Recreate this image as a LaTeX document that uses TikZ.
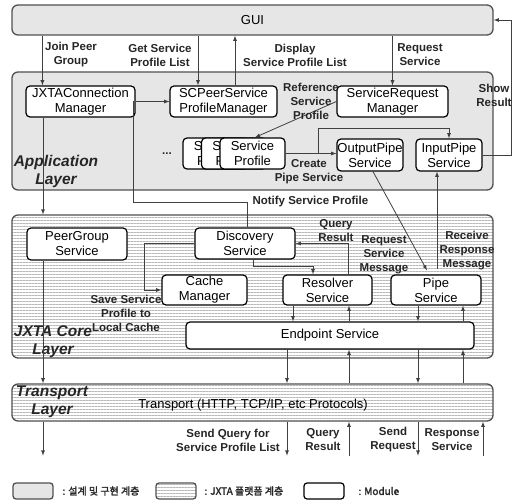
\documentclass[tikz,border=0pt]{standalone}
\usepackage{fontspec}
\setmainfont{Liberation Sans}
\newfontfamily\krfont{Noto Sans CJK KR}[AutoFakeBold=2]
\usetikzlibrary{patterns.meta}
\definecolor{layergray}{RGB}{230,230,230}
\definecolor{edgegray}{RGB}{80,80,80}
\tikzset{
  layer/.style={draw=edgegray, line width=1.3pt, rounded corners=6pt, fill=layergray, inner sep=0pt},
  striped/.style={draw=edgegray, line width=1.3pt, rounded corners=6pt, inner sep=0pt,
    preaction={fill=white}, pattern={Lines[angle=0,distance=3pt,line width=1pt]}, pattern color=black!28},
  module/.style={draw=black, line width=1.2pt, rounded corners=4pt, fill=white, inner sep=0pt,
    align=center, font=\fontsize{13}{15}\selectfont},
  lbl/.style={align=center, font=\fontsize{11.5}{14}\selectfont\bfseries, text=black!85},
  layername/.style={align=center, font=\fontsize{15.5}{18}\selectfont\bfseries\itshape, text=black!85},
  keytext/.style={anchor=west, font=\krfont\fontsize{10}{11}\selectfont\bfseries, text=black!85},
  link/.style={->, >=latex, draw=black!75, line width=0.8pt}
}
\begin{document}
\begin{tikzpicture}[x=1pt, y=-1pt]
\useasboundingbox (0,0) rectangle (515,500);
% layers
\node[layer, minimum width=481pt, minimum height=30pt, font=\fontsize{13}{15}\selectfont] (gui) at (252.5,20) {GUI};
\node[layer, minimum width=481pt, minimum height=118pt] (app) at (252.5,131) {};
\node[striped, minimum width=481pt, minimum height=143pt] (core) at (252.5,286.5) {};
\node[striped, minimum width=481pt, minimum height=37pt, font=\fontsize{13}{15}\selectfont] (transport) at (252.5,402.5) {};
\node[font=\fontsize{13}{15}\selectfont] (transtxt) at (253,405) {Transport (HTTP, TCP/IP, etc Protocols)};
\node[layername] (appname) at (56,171) {Application\\Layer};
\node[layername] (corename) at (53,342) {JXTA Core\\Layer};
\node[layername] (transname) at (52,402) {Transport\\Layer};
% modules
\node[module, minimum width=109pt, minimum height=31pt] (conn) at (80.5,101.5) {JXTAConnection\\Manager};
\node[module, minimum width=107pt, minimum height=31pt] (scpeer) at (223.5,101.5) {SCPeerService\\ProfileManager};
\node[module, minimum width=111pt, minimum height=31pt] (sreq) at (392.5,101.5) {ServiceRequest\\Manager};
\node[lbl] (dots) at (167,154) {...};
\node[module, minimum width=65pt, minimum height=31pt] (prof1) at (215.5,153.5) {Service\\Profile};
\node[module, minimum width=65pt, minimum height=31pt] (prof2) at (234,153.5) {Service\\Profile};
\node[module, minimum width=65pt, minimum height=31pt] (prof3) at (252.5,153.5) {Service\\Profile};
\node[module, minimum width=66pt, minimum height=32pt] (outpipe) at (370,155) {OutputPipe\\Service};
\node[module, minimum width=66pt, minimum height=32pt] (inpipe) at (449,155) {InputPipe\\Service};
\node[module, minimum width=100pt, minimum height=32pt] (peergrp) at (77,244) {PeerGroup\\Service};
\node[module, minimum width=100pt, minimum height=31pt] (disc) at (245,243.5) {Discovery\\Service};
\node[module, minimum width=85pt, minimum height=30pt] (cache) at (204.5,290) {Cache\\Manager};
\node[module, minimum width=89pt, minimum height=30pt] (resolver) at (327.5,290) {Resolver\\Service};
\node[module, minimum width=90pt, minimum height=30pt] (pipe) at (436,290) {Pipe\\Service};
\node[module, minimum width=288pt, minimum height=27pt] (endpt) at (330,335.5) {Endpoint Service};
% GUI <-> application
\draw[link] ([xshift=17pt]conn.north west |- gui.south) -- ([xshift=17pt]conn.north west);
\draw[link] ([xshift=-25.5pt]scpeer.north |- gui.south) -- ([xshift=-25.5pt]scpeer.north);
\draw[link] ([xshift=11.5pt]scpeer.north) -- ([xshift=11.5pt]scpeer.north |- gui.south);
\draw[link] (sreq.north |- gui.south) -- (sreq.north);
\draw[link] (inpipe.east) -- ++(29,0) |- (gui.east);
\node[lbl] (joinlbl) at (71,55) {Join Peer\\Group};
\node[lbl] (getlbl) at (160,55) {Get Service\\Profile List};
\node[lbl] (displbl) at (295,55) {Display\\Service Profile List};
\node[lbl] (reqlbl) at (420,55) {Request\\Service};
\node[lbl] (showlbl) at (494,95) {Show\\Result};
% inside application layer
\draw[link] (conn.east) -- (scpeer.west);
\draw[link] (sreq.west) -- ([xshift=2.5pt]prof3.north);
\draw[link] (prof3.east) -- (prof3.east -| outpipe.west);
\draw[link] ([xshift=33pt]prof3.east) -- ++(0,-25.5) -| (inpipe.north);
\node[lbl] (reflbl) at (311,101.5) {Reference\\Service\\Profile};
\node[lbl] (createlbl) at (309,172) {Create\\Pipe Service};
% application -> core
\draw[link] ([xshift=-37.5pt]conn.south) -- ([xshift=-37.5pt]conn.south |- core.north);
\draw[link, -] ([xshift=-2pt]conn.east) -- ++(0,100.5) -| ([xshift=2pt]disc.north);
\node[lbl, anchor=west] (notifylbl) at (249,202) {Notify Service Profile};
\draw[link] ([xshift=3pt]outpipe.south) -- ([xshift=-9pt,yshift=4pt]pipe.north);
\draw[link] ([xshift=1pt,yshift=5pt]pipe.north) -- ([xshift=1pt]pipe.north |- inpipe.south);
\node[lbl] (reqmsglbl) at (384,255) {Request\\Service\\Message};
\node[lbl] (recvlbl) at (467,251) {Receive\\Response\\Message};
% inside core layer
\draw[link] (disc.west) -- ++(-50,0) |- (cache.west);
\draw[link] ([xshift=8pt]disc.south) -- ++(0,7) -| ([xshift=-14.5pt]resolver.north);
\draw[link] ([xshift=20.5pt]resolver.north) |- (disc.east);
\node[lbl] (savelbl) at (126,313) {Save Service\\Profile to\\Local Cache};
\node[lbl] (qrlbl) at (336,231) {Query\\Result};
\draw[link] ([xshift=-34.5pt]resolver.south) -- ([xshift=-34.5pt]resolver.south |- endpt.north);
\draw[link, <-] ([xshift=21.5pt]resolver.south) -- ([xshift=21.5pt]resolver.south |- endpt.north);
\draw[link] ([xshift=-18pt]pipe.south) -- ([xshift=-18pt]pipe.south |- endpt.north);
\draw[link, <-] ([xshift=27pt]pipe.south) -- ([xshift=27pt]pipe.south |- endpt.north);
% core <-> transport
\draw[link] ([xshift=-34pt]peergrp.south) -- ([xshift=-34pt]peergrp.south |- transport.north);
\foreach \dx in {-43,88}
  \draw[link] ([xshift=\dx pt]endpt.south) -- ([xshift=\dx pt]endpt.south |- transport.north);
\foreach \dx in {19,133}
  \draw[link, <-] ([xshift=\dx pt]endpt.south) -- ([xshift=\dx pt]endpt.south |- transport.north);
% below transport
\draw[link] ([xshift=-209.5pt]transport.south) -- ++(0,34);
\foreach \dx in {34.5,165.5}
  \draw[link] ([xshift=\dx pt]transport.south) -- ++(0,34);
\foreach \dx in {96.5,230.5}
  \draw[link, <-] ([xshift=\dx pt]transport.south) -- ++(0,34);
\node[lbl] (sendqlbl) at (228,440) {Send Query for\\Service Profile List};
\node[lbl] (qr2lbl) at (323,440) {Query\\Result};
\node[lbl] (sendrlbl) at (393,440) {Send\\Request};
\node[lbl] (resplbl) at (452,440) {Response\\Service};
% legend
\node[layer, minimum width=40pt, minimum height=16pt, rounded corners=3pt] (key1) at (33,491) {};
\node[keytext] (key1txt) at (59,491) {: 설계 및 구현 계층};
\node[striped, minimum width=40pt, minimum height=16pt, rounded corners=3pt] (key2) at (176,491) {};
\node[keytext] (key2txt) at (201,491) {: JXTA 플랫폼 계층};
\node[module, minimum width=40pt, minimum height=16pt, rounded corners=3pt] (key3) at (324,491) {};
\node[keytext] (key3txt) at (355,491) {: Module};
\end{tikzpicture}
\end{document}
